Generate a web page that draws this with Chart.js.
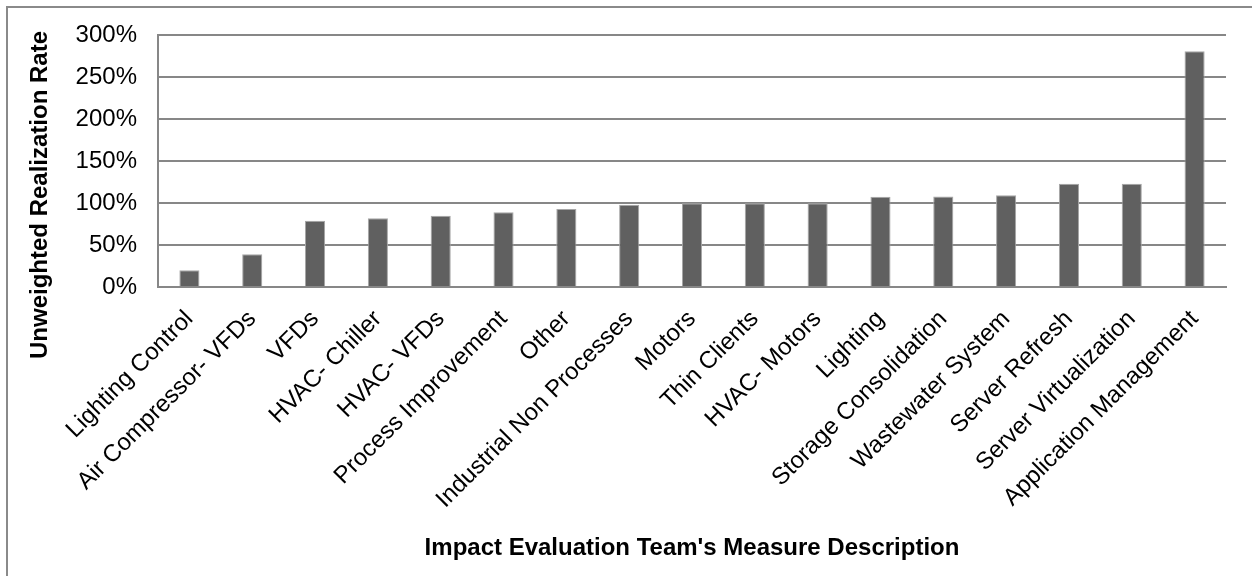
<!DOCTYPE html>
<html>
<head>
<meta charset="utf-8">
<script src="https://cdn.jsdelivr.net/npm/chart.js@4"></script>
<style>
  body { margin: 0; background: #fff; }
  #wrap { position: relative; width: 1252px; height: 576px; }
  #frame { position: absolute; left: 6px; top: 6px; right: -10px; bottom: -10px; border-left: 2px solid #8a8a8a; border-top: 2px solid #8a8a8a; }
  #chartArea { position: absolute; left: 0; top: 0; }
</style>
</head>
<body>
<div id="wrap">
  <div id="frame"></div>
  <canvas id="chartArea" width="1252" height="576"></canvas>
</div>
<script>
// measure descriptions, sorted by realization rate
var measures = [
  'Lighting Control', 'Air Compressor- VFDs', 'VFDs', 'HVAC- Chiller', 'HVAC- VFDs',
  'Process Improvement', 'Other', 'Industrial Non Processes', 'Motors', 'Thin Clients',
  'HVAC- Motors', 'Lighting', 'Storage Consolidation', 'Wastewater System',
  'Server Refresh', 'Server Virtualization', 'Application Management'
]
// unweighted realization rate, percent
var realizationRate = [20, 39, 79, 82, 85, 89, 93, 98, 100, 100, 100, 107.5, 108, 109.5, 123, 123, 281]
var yTicks = [0, 50, 100, 150, 200, 250, 300]
var yTitle = 'Unweighted Realization Rate'
var xTitle = "Impact Evaluation Team's Measure Description"

var gridGray = '#878787'
var fontFam = 'Liberation Sans'

// y title sits lower than the plot centre in the original, so draw it by hand
var yTitlePlugin = {
  id: 'yTitle',
  afterDraw: function(chart) {
    var c = chart.ctx
    c.save()
    c.translate(40, 195)
    c.rotate(-Math.PI / 2)
    c.font = 'bold 24px ' + fontFam
    c.fillStyle = '#000'
    c.textAlign = 'center'
    c.textBaseline = 'middle'
    c.fillText(yTitle, 0, 0)
    c.restore()
  }
}

var ctx = document.getElementById('chartArea').getContext('2d')
var myChart = new Chart(ctx, {
  type: 'bar',
  data: {
    labels: measures,
    datasets: [{
      data: realizationRate,
      backgroundColor: '#606060',
      borderColor: '#a6a6a6',
      borderWidth: 1,
      barPercentage: 0.32,
      categoryPercentage: 1
    }]
  },
  plugins: [yTitlePlugin],
  options: {
    responsive: false,
    animation: false,
    layout: { padding: { top: 35, right: 26, left: 0, bottom: 0 } },
    plugins: {
      legend: { display: false },
      tooltip: { enabled: false }
    },
    scales: {
      x: {
        grid: { display: false },
        border: { display: true, color: gridGray, width: 2 },
        ticks: {
          color: '#000',
          font: { family: fontFam, size: 24 },
          maxRotation: 45,
          minRotation: 45,
          padding: 10,
          autoSkip: false
        },
        title: {
          display: true,
          text: xTitle,
          color: '#000',
          font: { family: fontFam, size: 24, weight: 'bold' },
          padding: { top: 0, bottom: 13 }
        },
        afterFit: function(scale) { scale.height = 289 }
      },
      y: {
        min: 0,
        max: 300,
        afterBuildTicks: function(scale) {
          scale.ticks = yTicks.map(function(v) { return { value: v } })
        },
        grid: { color: gridGray, lineWidth: 2, drawTicks: false },
        border: { display: true, color: gridGray, width: 2 },
        ticks: {
          color: '#000',
          font: { family: fontFam, size: 24 },
          padding: 21,
          callback: function(v) { return v + '%' }
        },
        afterFit: function(scale) { scale.width = 158 }
      }
    }
  }
})
</script>
</body>
</html>
